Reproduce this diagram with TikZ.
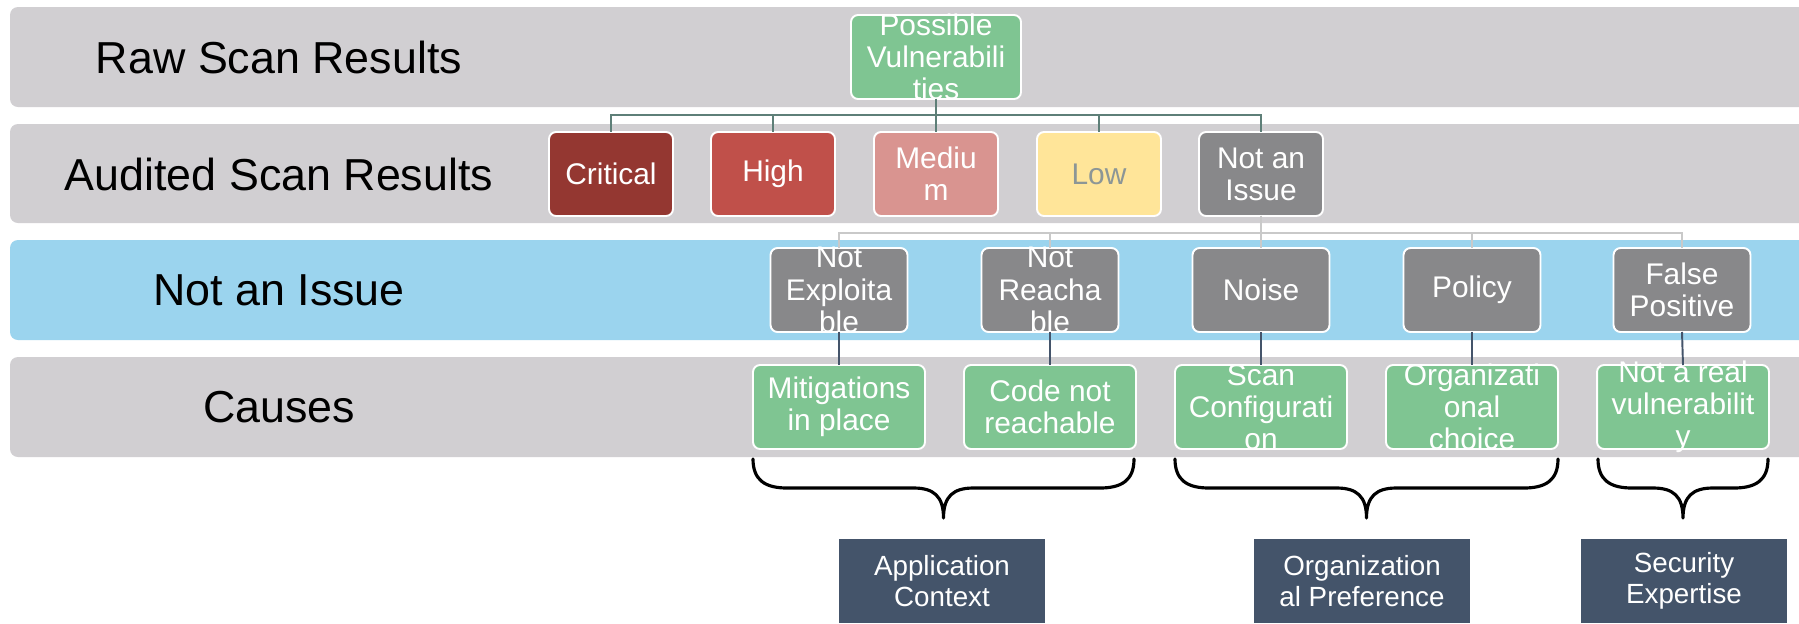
\documentclass[tikz,border=0pt]{standalone}
\usepackage{fontspec}
\setmainfont{Liberation Sans}
\usepackage{xcolor}
\usetikzlibrary{positioning}
\definecolor{bandgray}{HTML}{D1CFD2}
\definecolor{bandblue}{HTML}{9BD4EE}
\definecolor{vgreen}{HTML}{7FC592}
\definecolor{critred}{HTML}{943731}
\definecolor{highred}{HTML}{C0504A}
\definecolor{medred}{HTML}{D99490}
\definecolor{lowyel}{HTML}{FFE599}
\definecolor{lowtext}{HTML}{8C9696}
\definecolor{naigray}{HTML}{88888A}
\definecolor{slate}{HTML}{44546A}
\definecolor{treegreen}{HTML}{5E7F78}
\definecolor{treegray}{HTML}{C9C9C9}

\begin{document}
\begin{tikzpicture}[x=0.02cm, y=-0.02cm,
    band/.style={rounded corners=0.16cm},
    bandtitle/.style={font=\fontsize{25.5}{30}\selectfont, text=black},
    box/.style={rectangle, draw=white, line width=1.1pt, rounded corners=0.14cm, minimum height=1.68cm, inner xsep=0pt, inner ysep=-8pt, outer sep=0pt, align=center, text=white, font=\fontsize{17}{18.3}\selectfont},
    factor/.style={rectangle, fill=slate, minimum height=1.68cm, inner sep=0pt, outer sep=0pt, align=center, text=white, font=\fontsize{15.8}{17.5}\selectfont},
    curly/.style={line width=1.8pt, line cap=round, line join=round}
]
    \clip (0,0) rectangle (1799,623);
    \fill[white] (0,0) rectangle (1799,623);

    % Baender
    \fill[band, fill=bandgray] (10,7) rectangle (1830,107);
    \fill[band, fill=bandgray] (10,124) rectangle (1830,223);
    \fill[band, fill=bandblue] (10,240) rectangle (1830,340);
    \fill[band, fill=bandgray] (10,357) rectangle (1830,457);
    \node[bandtitle] (raw) at (279,57) {Raw Scan Results};
    \node[bandtitle] (audited) at (279,174) {Audited Scan Results};
    \node[bandtitle] (notissue) at (279,290) {Not an Issue};
    \node[bandtitle] (causes) at (279,407) {Causes};

    % Rohergebnis
    \node[box, fill=vgreen, minimum width=3.4cm] (pv) at (936,57) {Possible\\Vulnerabili\\ties};

    % Auditierte Ergebnisse
    \node[box, fill=critred, minimum width=2.48cm] (crit) at (611,174) {Critical};
    \node[box, fill=highred, minimum width=2.48cm] (high) at (773,174) {High};
    \node[box, fill=medred, minimum width=2.48cm] (med) at (936,174) {Mediu\\m};
    \node[box, fill=lowyel, text=lowtext, minimum width=2.48cm] (low) at (1099,174) {Low};
    \node[box, fill=naigray, minimum width=2.48cm] (nai) at (1261,174) {Not an\\Issue};

    % Kategorien
    \node[box, fill=naigray, minimum width=2.74cm] (notexp) at (839,290) {Not\\Exploita\\ble};
    \node[box, fill=naigray, minimum width=2.74cm] (notreach) at (1050,290) {Not\\Reacha\\ble};
    \node[box, fill=naigray, minimum width=2.74cm] (noise) at (1261,290) {Noise};
    \node[box, fill=naigray, minimum width=2.74cm] (policy) at (1472,290) {Policy};
    \node[box, fill=naigray, minimum width=2.74cm] (falsepos) at (1682,290) {False\\Positive};

    % Ursachen
    \node[box, fill=vgreen, minimum width=3.44cm] (mitig) at (839,407) {Mitigations\\in place};
    \node[box, fill=vgreen, minimum width=3.44cm] (codenr) at (1050,407) {Code not\\reachable};
    \node[box, fill=vgreen, minimum width=3.44cm] (scancfg) at (1261,407) {Scan\\Configurati\\on};
    \node[box, fill=vgreen, minimum width=3.44cm] (orgch) at (1472,407) {Organizati\\onal\\choice};
    \node[box, fill=vgreen, minimum width=3.44cm] (notreal) at (1683,407) {Not a real\\vulnerabilit\\y};

    % Verbindungen
    \foreach \n in {crit,high,med,low,nai}
        \draw[treegreen, line width=1.1pt] (pv.south) -- ++(0,16) -| (\n.north);
    \foreach \n in {notexp,notreach,noise,policy,falsepos}
        \draw[treegray, line width=1.1pt] (nai.south) -- ++(0,17) -| (\n.north);
    \draw[slate, line width=1.1pt] (notexp.south) -- (mitig.north);
    \draw[slate, line width=1.1pt] (notreach.south) -- (codenr.north);
    \draw[slate, line width=1.1pt] (noise.south) -- (scancfg.north);
    \draw[slate, line width=1.1pt] (policy.south) -- (orgch.north);
    \draw[slate, line width=1.1pt] (falsepos.south) -- (notreal.north);

    % Klammern
    \foreach \a/\b in {753/1134, 1175/1558, 1598/1768} {
        \pgfmathsetmacro{\m}{(\a+\b)/2}
        \draw[curly] (\a,459) .. controls (\a,480) and (\a+12,488) .. (\a+34,488)
            -- (\m-30,488) .. controls (\m-10,488) and (\m,496) .. (\m,518)
            .. controls (\m,496) and (\m+10,488) .. (\m+30,488)
            -- (\b-34,488) .. controls (\b-12,488) and (\b,480) .. (\b,459);
    }

    % Faktoren
    \node[factor, minimum width=4.14cm] (appctx) at (942,581) {Application\\Context};
    \node[factor, minimum width=4.32cm] (orgpref) at (1362,581) {Organization\\al Preference};
    \node[factor, minimum width=4.14cm] (secexp) at (1684,581) {Security\\Expertise};
\end{tikzpicture}
\end{document}
